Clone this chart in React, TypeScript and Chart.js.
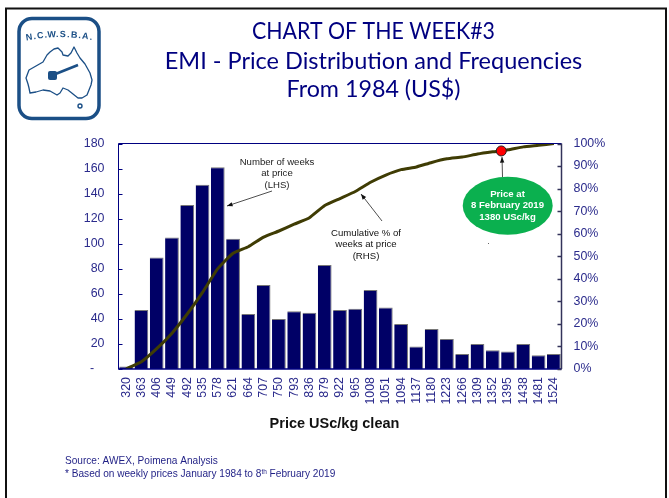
import React, { useEffect, useRef } from "react";
import { Chart, registerables } from "chart.js";

Chart.register(...registerables);

const prices = ["320","363","406","449","492","535","578","621","664","707","750","793","836","879","922","965","1008","1051","1094","1137","1180","1223","1266","1309","1352","1395","1438","1481","1524"];
const weeksAtPrice = [2,47,89,105,131,147,161,104,44,67,40,46,45,83,47,48,63,49,36,18,32,24,12,20,15,14,20,11,12];
const cumulativePct = [0.1,3.2,9,15.9,24.4,34,44.5,51.3,54.2,58.5,61.2,64.2,67.1,72.5,75.6,78.7,82.8,86,88.4,89.6,91.6,93.2,94,95.3,96.3,97.2,98.5,99.2,100];
const currentPrice = [{ x: 1376, y: 96.7 }];
const titleLines = ["CHART OF THE WEEK#3", "EMI - Price Distribution and Frequencies", "From 1984 (US$)"];
const weeksNote = ["Number of weeks", "at price", "(LHS)"];
const cumulativeNote = ["Cumulative % of", "weeks at price", "(RHS)"];
const priceNote = ["Price at", "8 February 2019", "1380 USc/kg"];
const xAxisTitle = "Price USc/kg clean";
const logoName = "N.C.W.S.B.A.";

const ARIAL = '"Liberation Sans", Arial, sans-serif';
const NAVY = "#000080";
const TICK = "#2b2b8c";

function arrow(ctx: CanvasRenderingContext2D, x1: number, y1: number, x2: number, y2: number) {
  const a = Math.atan2(y2 - y1, x2 - x1);
  ctx.strokeStyle = "#222";
  ctx.fillStyle = "#111";
  ctx.lineWidth = 0.8;
  ctx.beginPath();
  ctx.moveTo(x1, y1);
  ctx.lineTo(x2, y2);
  ctx.stroke();
  ctx.beginPath();
  ctx.moveTo(x2, y2);
  ctx.lineTo(x2 - 6 * Math.cos(a - 0.38), y2 - 6 * Math.sin(a - 0.38));
  ctx.lineTo(x2 - 6 * Math.cos(a + 0.38), y2 - 6 * Math.sin(a + 0.38));
  ctx.closePath();
  ctx.fill();
}

function lines(ctx: CanvasRenderingContext2D, text: string[], x: number, ys: number[], maxWidths?: number[]) {
  ctx.textAlign = "center";
  ctx.textBaseline = "middle";
  text.forEach((t, i) => ctx.fillText(t, x, ys[i], maxWidths ? maxWidths[i] : undefined));
}

function drawLogo(ctx: CanvasRenderingContext2D) {
  const c = "#1b4f86";
  ctx.strokeStyle = c;
  ctx.lineWidth = 3.5;
  ctx.beginPath();
  ctx.roundRect(19, 18.5, 80, 100, 13);
  ctx.stroke();
  ctx.fillStyle = c;
  ctx.font = `bold 9px ${ARIAL}`;
  ctx.textAlign = "center";
  ctx.textBaseline = "middle";
  const n = logoName.length;
  for (let i = 0; i < n; i++) {
    const t = (i - (n - 1) / 2) / (n - 1);
    ctx.save();
    ctx.translate(60 + t * 62, 34.5 + t * t * 12);
    ctx.rotate(t * 0.3);
    ctx.fillText(logoName[i], 0, 0);
    ctx.restore();
  }
  const outline = [[26,78],[29,70],[36,66],[43,62],[47,55],[50,52],[54,49],[58,48],[62,52],[63,55],[68,56],[71,53],[74,47],[77,53],[80,58],[85,64],[90,73],[92,80],[91,85],[87,95],[82,98],[78,98],[73,94],[68,90],[63,88],[60,93],[57,95],[50,91],[43,90],[36,92],[30,93],[29,88],[28,84]];
  ctx.lineWidth = 1.3;
  ctx.lineJoin = "round";
  ctx.beginPath();
  outline.forEach(([x, y], i) => (i ? ctx.lineTo(x, y) : ctx.moveTo(x, y)));
  ctx.closePath();
  ctx.stroke();
  ctx.lineWidth = 2.6;
  ctx.beginPath();
  ctx.moveTo(53, 75);
  ctx.lineTo(78, 65);
  ctx.stroke();
  ctx.beginPath();
  ctx.roundRect(48, 71, 9, 9, 2);
  ctx.fill();
  ctx.beginPath();
  ctx.arc(80, 106, 2, 0, Math.PI * 2);
  ctx.lineWidth = 1.4;
  ctx.stroke();
}

const overlay = {
  id: "slideOverlay",
  beforeDraw(chart: any) {
    const { ctx } = chart;
    ctx.save();
    ctx.fillStyle = "#fff";
    ctx.fillRect(0, 0, chart.width, chart.height);
    ctx.strokeStyle = "#111";
    ctx.lineWidth = 2;
    ctx.beginPath();
    ctx.moveTo(6, 520);
    ctx.lineTo(6, 8.5);
    ctx.lineTo(666, 8.5);
    ctx.lineTo(666, 520);
    ctx.stroke();
    drawLogo(ctx);
    ctx.fillStyle = NAVY;
    ctx.font = "23.5px Lato, sans-serif";
    lines(ctx, titleLines, 373.5, [31.5, 61, 89], [243, 418, 174]);
    ctx.restore();
  },
  afterDraw(chart: any) {
    const { ctx, chartArea: a, scales } = chart;
    ctx.save();
    ctx.strokeStyle = NAVY;
    ctx.lineWidth = 1;
    ctx.beginPath();
    ctx.moveTo(a.left, a.bottom);
    ctx.lineTo(a.left, a.top);
    ctx.lineTo(a.right, a.top);
    ctx.stroke();
    ctx.lineWidth = 1.4;
    ctx.beginPath();
    ctx.moveTo(a.left, a.bottom);
    ctx.lineTo(a.right, a.bottom);
    ctx.stroke();
    ctx.lineWidth = 1;
    scales.y.ticks.forEach((t: any) => {
      const p = Math.round(scales.y.getPixelForValue(t.value)) + 0.5;
      ctx.beginPath();
      ctx.moveTo(a.left, p);
      ctx.lineTo(a.left + 4, p);
      ctx.stroke();
    });
    ctx.strokeStyle = "#33335a";
    ctx.lineWidth = 1.5;
    ctx.beginPath();
    ctx.moveTo(a.right, a.top);
    ctx.lineTo(a.right, a.bottom);
    ctx.stroke();
    scales.y1.ticks.forEach((t: any) => {
      const p = Math.round(scales.y1.getPixelForValue(t.value)) + 0.5;
      ctx.beginPath();
      ctx.moveTo(a.right, p);
      ctx.lineTo(a.right - 4, p);
      ctx.stroke();
    });

    ctx.fillStyle = "#111";
    ctx.font = `bold 14.5px ${ARIAL}`;
    lines(ctx, [xAxisTitle], 334.5, [423.5]);

    ctx.fillStyle = "#222";
    ctx.font = `9.6px ${ARIAL}`;
    lines(ctx, weeksNote, 277, [162, 173, 185]);
    arrow(ctx, 272, 191, 227, 206);
    lines(ctx, cumulativeNote, 366, [233, 244, 256]);
    arrow(ctx, 382, 221, 361, 194);
    arrow(ctx, 502.5, 177, 502, 157);
    ctx.fillStyle = "#666";
    ctx.fillRect(488, 243, 1, 1);

    ctx.fillStyle = "#0bb04f";
    ctx.beginPath();
    ctx.ellipse(507.7, 205.7, 45, 29, 0, 0, Math.PI * 2);
    ctx.fill();
    ctx.fillStyle = "#fff";
    ctx.font = `bold 9.6px ${ARIAL}`;
    lines(ctx, priceNote, 507.5, [194.5, 205.5, 217]);

    ctx.fillStyle = "#1f1f85";
    ctx.font = `10.1px ${ARIAL}`;
    ctx.textAlign = "left";
    ctx.textBaseline = "middle";
    ctx.fillText("Source: AWEX, Poimena Analysis", 65, 461.5);
    let x = 65;
    const before = "* Based on weekly prices January 1984 to 8";
    ctx.fillText(before, x, 474);
    x += ctx.measureText(before).width;
    ctx.font = `6.5px ${ARIAL}`;
    ctx.fillText("th", x, 472);
    x += ctx.measureText("th").width;
    ctx.font = `10.1px ${ARIAL}`;
    ctx.fillText(" February 2019", x, 474);
    ctx.restore();
  },
};

export default function App() {
  const ref = useRef<HTMLCanvasElement>(null);
  useEffect(() => {
    const chart = new Chart(ref.current!, {
      type: "bar",
      data: {
        labels: prices,
        datasets: [
          {
            type: "scatter",
            label: "Price at 8 February 2019",
            data: currentPrice,
            xAxisID: "xPrice",
            yAxisID: "y1",
            pointRadius: 5,
            pointBackgroundColor: "#ff0000",
            pointBorderColor: "#222",
            pointBorderWidth: 1,
            order: 0,
          },
          {
            type: "line",
            label: "Cumulative % of weeks at price",
            data: cumulativePct,
            xAxisID: "x",
            yAxisID: "y1",
            borderColor: "#3f3c04",
            borderWidth: 3,
            pointRadius: 0,
            tension: 0.15,
            order: 1,
          },
          {
            type: "bar",
            label: "Number of weeks at price",
            data: weeksAtPrice,
            xAxisID: "x",
            yAxisID: "y",
            grouped: false,
            backgroundColor: "#000066",
            borderColor: "#777777",
            borderWidth: { top: 1, right: 1, left: 0, bottom: 0 },
            barPercentage: 0.9,
            categoryPercentage: 1,
            order: 2,
          },
        ] as any,
      },
      options: {
        animation: false,
        responsive: false,
        layout: { padding: { top: 143.5, left: 0, right: 0, bottom: 0 } },
        plugins: { legend: { display: false }, tooltip: { enabled: false } },
        scales: {
          x: {
            type: "category",
            offset: true,
            grid: { display: false, drawTicks: false },
            border: { display: false },
            ticks: {
              autoSkip: false,
              minRotation: 90,
              maxRotation: 90,
              padding: 8,
              color: TICK,
              font: { family: ARIAL, size: 12.4 },
            },
            afterFit(s: any) { s.height = 129; },
          },
          xPrice: { type: "linear", display: false, offset: false, min: 298.5, max: 1545.5 },
          y: {
            position: "left",
            min: 0,
            max: 180,
            grid: { display: false, drawTicks: false },
            border: { display: false },
            ticks: {
              stepSize: 20,
              padding: 14,
              color: TICK,
              font: { family: ARIAL, size: 12.4 },
              callback: (v: any) => (v === 0 ? "-   " : String(v)),
            },
            afterFit(s: any) { s.width = 118.5; },
          },
          y1: {
            position: "right",
            min: 0,
            max: 100,
            grid: { display: false, drawTicks: false },
            border: { display: false },
            ticks: {
              stepSize: 10,
              padding: 12,
              color: TICK,
              font: { family: ARIAL, size: 12.4 },
              callback: (v: any) => `${v}%`,
            },
            afterFit(s: any) { s.width = 107.5; },
          },
        },
      } as any,
      plugins: [overlay],
    });
    return () => chart.destroy();
  }, []);
  return (
    <div style={{ position: "fixed", left: 0, top: 0, width: 669, height: 498 }}>
      <canvas ref={ref} width={669} height={498} style={{ display: "block" }} />
    </div>
  );
}
